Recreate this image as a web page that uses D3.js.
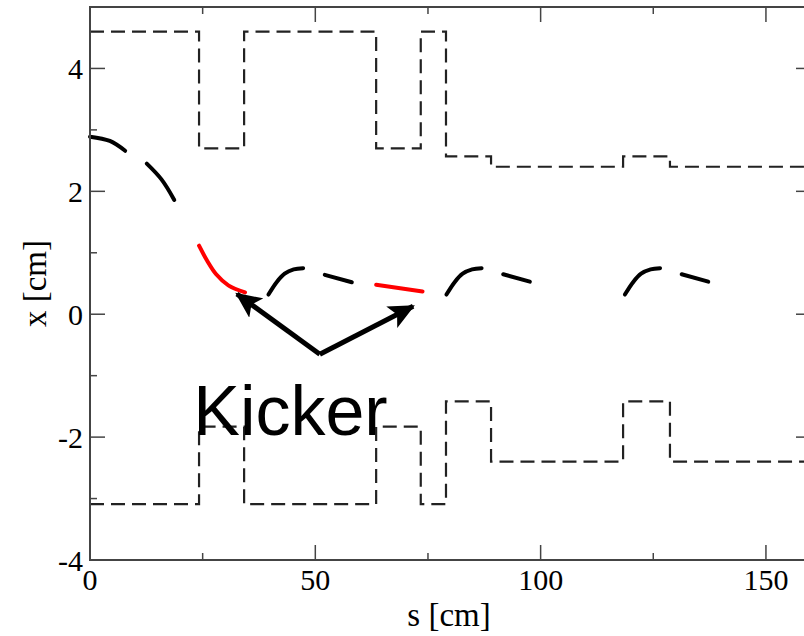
<!DOCTYPE html>
<html>
<head>
<meta charset="utf-8">
<title>Kicker orbit</title>
<style>
  html, body {margin: 0; padding: 0; background: #fff; overflow: hidden;}
  .tick-label {font-family: "Liberation Serif", "Times New Roman", serif; font-size: 30px; fill: #000;}
  .axis-title {font-family: "Liberation Serif", "Times New Roman", serif; font-size: 33px; fill: #000;}
  .note {font-family: "Liberation Sans", Arial, sans-serif; font-size: 70px; fill: #000;}
</style>
</head>
<body>
<div id="chart"></div>
<script src="https://cdn.jsdelivr.net/npm/d3@7"></script>
<script>
// tick values
var sTicks = [0, 50, 100, 150];
var sMinor = [25, 75, 125];
var xTicks = [-4, -2, 0, 2, 4];
var xMinor = [-3, -1, 1, 3];

// aperture edges: breakpoints in s and the level on each step
var edgeS = [0, 24.2, 34.2, 63.5, 73.4, 79, 89, 118.3, 128.7, 160];
var upperX = [4.6, 2.7, 4.6, 2.7, 4.6, 2.57, 2.4, 2.57, 2.4];
var lowerX = [-3.09, -1.83, -3.09, -1.83, -3.09, -1.42, -2.4, -1.42, -2.4];

// beam orbit pieces, [s, x]
var orbitBlack = [
  [[0, 2.89], [4.4, 2.82], [7.8, 2.66]],
  [[12.6, 2.45], [15.9, 2.19], [18.7, 1.86]],
  [[39.6, 0.32], [41.5, 0.53], [43.2, 0.66], [45.2, 0.73], [47.3, 0.75]],
  [[52.1, 0.64], [58.1, 0.52]],
  [[79.1, 0.32], [81.0, 0.53], [82.7, 0.66], [84.8, 0.73], [86.9, 0.75]],
  [[91.7, 0.65], [97.6, 0.53]],
  [[118.7, 0.32], [120.6, 0.53], [122.3, 0.66], [124.4, 0.73], [126.5, 0.75]],
  [[131.3, 0.65], [137.2, 0.53]]
];
var orbitRed = [
  [[24.2, 1.115], [26.0, 0.87], [28.0, 0.65], [30.7, 0.47], [34.4, 0.355]],
  [[63.5, 0.48], [73.8, 0.37]]
];

// annotation: arrow apex and tips, label anchor
var arrowFrom = [51.0, -0.65];
var arrowTips = [[32.6, 0.33], [71.7, 0.13]];
var noteAt = [22.9, -1.96];

var W = 804, H = 636;
var margin = {top: 7, left: 90, right: -7, bottom: 76};

var svg = d3.select("#chart").append("svg")
    .attr("width", W)
    .attr("height", H);

var sx = d3.scaleLinear().domain([0, 160]).range([margin.left, W - margin.right]);
var sy = d3.scaleLinear().domain([-4, 5]).range([H - margin.bottom, margin.top]);

// arrow head
svg.append("defs").append("marker")
    .attr("id", "head")
    .attr("markerUnits", "userSpaceOnUse")
    .attr("viewBox", "0 0 26 24")
    .attr("refX", 24).attr("refY", 12)
    .attr("markerWidth", 26).attr("markerHeight", 24)
    .attr("orient", "auto")
  .append("path")
    .attr("d", "M0,0 L26,12 L0,24 L6,12 Z")
    .attr("fill", "#000");

// aperture
var step = d3.line()
    .x(function(d) { return sx(d[0]); })
    .y(function(d) { return sy(d[1]); })
    .curve(d3.curveStepAfter);

[upperX, lowerX].forEach(function(levels) {
  var pts = levels.map(function(v, i) { return [edgeS[i], v]; });
  pts.push([edgeS[edgeS.length - 1], levels[levels.length - 1]]);
  svg.append("path")
      .attr("d", step(pts))
      .attr("fill", "none")
      .attr("stroke", "#222")
      .attr("stroke-width", 2.2)
      .attr("stroke-dasharray", "14,7");
});

// orbit
var curve = d3.line()
    .x(function(d) { return sx(d[0]); })
    .y(function(d) { return sy(d[1]); })
    .curve(d3.curveCatmullRom.alpha(0.5));

svg.selectAll(".orbit-black")
    .data(orbitBlack)
  .enter().append("path")
    .attr("class", "orbit-black")
    .attr("d", curve)
    .attr("fill", "none")
    .attr("stroke", "#000")
    .attr("stroke-width", 4)
    .attr("stroke-linecap", "round");

svg.selectAll(".orbit-red")
    .data(orbitRed)
  .enter().append("path")
    .attr("class", "orbit-red")
    .attr("d", curve)
    .attr("fill", "none")
    .attr("stroke", "#f00")
    .attr("stroke-width", 4)
    .attr("stroke-linecap", "round");

// frame and ticks on all four sides
var x0 = sx(0), x1 = sx(160), y0 = sy(-4), y1 = sy(5);
svg.append("rect")
    .attr("x", x0).attr("y", y1)
    .attr("width", x1 - x0).attr("height", y0 - y1)
    .attr("fill", "none")
    .attr("stroke", "#444")
    .attr("stroke-width", 2);

function ticks(vals, len) {
  vals.forEach(function(v) {
    svg.append("line").attr("x1", sx(v)).attr("x2", sx(v)).attr("y1", y0).attr("y2", y0 - len)
        .attr("stroke", "#444").attr("stroke-width", 1.5);
    svg.append("line").attr("x1", sx(v)).attr("x2", sx(v)).attr("y1", y1).attr("y2", y1 + len)
        .attr("stroke", "#444").attr("stroke-width", 1.5);
  });
}
function yticks(vals, len) {
  vals.forEach(function(v) {
    svg.append("line").attr("x1", x0).attr("x2", x0 + len).attr("y1", sy(v)).attr("y2", sy(v))
        .attr("stroke", "#444").attr("stroke-width", 1.5);
    svg.append("line").attr("x1", x1).attr("x2", x1 - len).attr("y1", sy(v)).attr("y2", sy(v))
        .attr("stroke", "#444").attr("stroke-width", 1.5);
  });
}
ticks(sTicks, 15); ticks(sMinor, 7);
yticks(xTicks, 15); yticks(xMinor, 7);

svg.selectAll(".slabel")
    .data(sTicks)
  .enter().append("text")
    .attr("class", "tick-label")
    .attr("x", function(d) { return sx(d); })
    .attr("y", y0 + 30)
    .attr("text-anchor", "middle")
    .text(function(d) { return d; });

svg.selectAll(".xlabel")
    .data(xTicks)
  .enter().append("text")
    .attr("class", "tick-label")
    .attr("x", x0 - 7)
    .attr("y", function(d) { return sy(d) + 11; })
    .attr("text-anchor", "end")
    .text(function(d) { return d; });

svg.append("text")
    .attr("class", "axis-title")
    .attr("x", (x0 + 804) / 2 + 2)
    .attr("y", H - 10)
    .attr("text-anchor", "middle")
    .text("s [cm]");

svg.append("text")
    .attr("class", "axis-title")
    .attr("transform", "translate(46," + ((y0 + y1) / 2) + ") rotate(-90)")
    .attr("text-anchor", "middle")
    .text("x [cm]");

// kicker annotation
arrowTips.forEach(function(t) {
  svg.append("line")
      .attr("x1", sx(arrowFrom[0])).attr("y1", sy(arrowFrom[1]))
      .attr("x2", sx(t[0])).attr("y2", sy(t[1]))
      .attr("stroke", "#000")
      .attr("stroke-width", 5)
      .attr("marker-end", "url(#head)");
});

svg.append("text")
    .attr("class", "note")
    .attr("x", sx(noteAt[0]))
    .attr("y", sy(noteAt[1]))
    .text("Kicker");
</script>
</body>
</html>
